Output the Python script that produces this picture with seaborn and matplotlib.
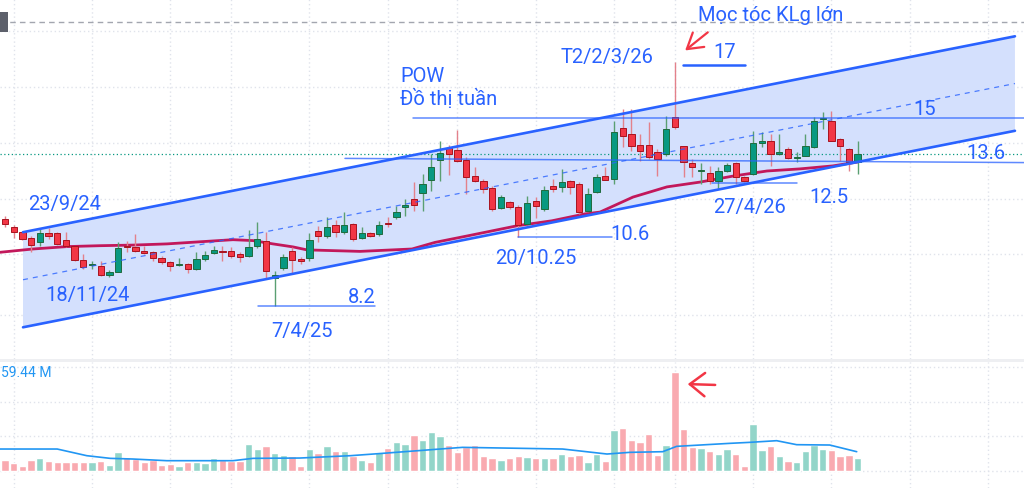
import numpy as np
import pandas as pd
import seaborn as sns
import matplotlib
matplotlib.use("Agg")
import matplotlib.pyplot as plt

# nến tuần POW (giá)
opens = [11.10, 10.83, 10.67, 10.47, 10.33, 10.63, 10.63, 10.40, 10.20, 9.73,
         9.55, 9.53, 9.23, 9.33, 10.20, 10.17, 10.03, 10.00, 9.80, 9.67,
         9.57, 9.60, 9.43, 9.77, 9.97, 10.03, 10.03, 9.93, 9.87, 10.20,
         10.37, 9.13, 9.47, 10.03, 9.77, 9.80, 10.70, 10.53, 10.90, 10.67,
         10.93, 10.47, 10.63, 10.60, 10.97, 11.17, 11.50, 11.77, 11.97, 12.40,
         13.07, 13.47, 13.40, 13.07, 12.53, 12.37, 12.13, 11.47, 11.67, 11.50,
         10.93, 11.70, 11.43, 12.20, 12.17, 12.37, 12.27, 11.37, 12.00, 12.53,
         12.43, 14.13, 13.93, 13.57, 13.57, 13.33, 13.27, 14.50, 13.53, 12.97,
         12.70, 12.63, 12.37, 12.70, 12.97, 12.50, 12.60, 13.63, 13.70, 13.27,
         13.43, 13.13, 13.20, 13.50, 14.43, 14.37, 13.77, 13.43, 13.00]
closes = [10.93, 10.67, 10.43, 10.23, 10.63, 10.53, 10.27, 10.20, 9.73, 9.50,
          9.58, 9.23, 9.33, 10.13, 10.17, 10.03, 9.97, 9.80, 9.67, 9.53,
          9.60, 9.43, 9.77, 9.90, 10.07, 10.00, 9.87, 9.83, 10.17, 10.43,
          9.37, 9.23, 9.83, 9.73, 9.70, 10.40, 10.53, 10.83, 10.67, 10.90,
          10.43, 10.63, 10.53, 10.90, 10.93, 11.33, 11.57, 11.57, 12.27, 12.83,
          13.30, 13.27, 13.03, 12.50, 12.37, 12.10, 11.43, 11.83, 11.50, 10.90,
          11.63, 11.53, 12.07, 12.10, 12.33, 12.17, 11.33, 11.93, 12.50, 12.40,
          14.00, 13.87, 13.53, 13.37, 13.17, 13.10, 14.10, 14.17, 13.00, 12.83,
          12.73, 12.37, 12.70, 12.90, 12.50, 12.37, 13.63, 13.70, 13.27, 13.33,
          13.13, 13.17, 13.53, 14.37, 14.47, 13.70, 13.53, 13.00, 13.27]
highs = [11.20, 10.90, 10.70, 10.53, 10.77, 10.80, 10.67, 10.67, 10.20, 9.93,
         9.70, 9.70, 9.40, 10.33, 10.37, 10.60, 10.20, 10.03, 9.87, 9.70,
         9.80, 9.63, 10.00, 10.03, 10.20, 10.20, 10.17, 10.00, 10.73, 11.00,
         10.67, 9.37, 9.93, 10.17, 9.83, 10.63, 10.87, 11.17, 11.07, 11.33,
         10.97, 10.83, 10.67, 11.03, 11.17, 11.53, 11.77, 12.33, 12.60, 13.27,
         13.70, 13.57, 14.07, 13.17, 12.83, 12.43, 12.20, 11.90, 11.70, 11.57,
         11.87, 11.83, 12.20, 12.43, 12.77, 12.40, 12.33, 12.13, 12.60, 12.83,
         14.37, 14.77, 14.77, 13.93, 14.33, 13.43, 14.53, 16.33, 13.53, 13.10,
         12.97, 12.87, 12.83, 12.97, 13.00, 12.53, 14.03, 14.00, 13.93, 13.93,
         13.50, 13.33, 13.93, 14.50, 14.67, 14.70, 13.80, 13.47, 13.70]
lows = [10.83, 10.47, 10.40, 10.00, 10.20, 10.43, 10.23, 10.17, 9.70, 9.43,
        9.43, 9.20, 9.17, 9.33, 10.00, 10.00, 9.93, 9.70, 9.60, 9.37,
        9.53, 9.30, 9.40, 9.70, 9.93, 9.70, 9.80, 9.67, 9.83, 10.13,
        9.13, 8.20, 9.40, 9.27, 9.60, 9.70, 10.33, 10.47, 10.50, 10.60,
        10.37, 10.43, 10.50, 10.53, 10.83, 11.10, 11.20, 11.37, 11.37, 12.03,
        12.37, 12.57, 13.00, 11.93, 12.33, 11.97, 11.37, 11.43, 11.43, 10.50,
        10.90, 11.13, 11.37, 12.00, 12.00, 11.93, 11.27, 11.33, 11.97, 12.40,
        12.27, 13.50, 13.37, 13.03, 13.10, 12.53, 13.20, 14.10, 12.50, 12.50,
        12.27, 12.27, 12.10, 12.67, 12.27, 12.33, 12.57, 13.50, 12.87, 13.23,
        13.10, 13.00, 13.20, 13.47, 14.10, 13.70, 13.03, 12.70, 12.60]
# khối lượng (triệu cp)
volumes = [6.4, 4.4, 3.0, 6.4, 7.6, 6.0, 5.4, 5.4, 5.0, 5.0,
           5.0, 5.8, 3.6, 11.4, 8.4, 7.0, 5.4, 6.2, 3.4, 4.0,
           3.0, 5.0, 5.4, 4.8, 7.4, 6.4, 5.6, 5.6, 16.0, 13.0,
           14.6, 10.8, 9.2, 8.6, 2.8, 12.8, 10.8, 15.0, 11.8, 11.8,
           9.0, 6.4, 5.4, 11.0, 13.6, 17.4, 16.0, 21.4, 18.4, 23.4,
           21.0, 15.4, 11.0, 14.4, 15.4, 8.6, 7.8, 6.4, 7.4, 8.8,
           8.2, 7.8, 7.8, 7.4, 10.0, 8.8, 9.6, 5.0, 10.0, 6.0,
           24.2, 25.6, 18.4, 17.4, 22.0, 9.2, 15.4, 59.44, 25.0, 14.4,
           13.6, 11.8, 10.0, 13.2, 10.0, 2.8, 27.8, 12.4, 15.0, 8.8,
           6.0, 5.0, 11.8, 15.4, 13.2, 12.4, 8.8, 9.2, 7.8]

# đường MA giá và MA khối lượng
ma_idx = [0.43, 4.22, 8.13, 11.92, 15.71, 19.62, 23.41, 27.21, 29.51, 31.8,
          34.1, 35.71, 41.8, 47.78, 50.43, 54.22, 59.97, 63.87, 67.67, 69.39,
          73.18, 77.09, 80.89, 84.68, 88.59, 92.38, 96.17, 99.05]
ma_val = [9.99, 10.10, 10.18, 10.21, 10.23, 10.27, 10.34, 10.41, 10.38, 10.27,
          10.17, 10.07, 10.02, 10.10, 10.32, 10.54, 10.88, 11.04, 11.27, 11.33,
          11.83, 12.17, 12.33, 12.53, 12.70, 12.77, 12.87, 13.00]
vma_idx = [0.43, 7, 10.4, 13.1, 15.7, 19.6, 27.2, 29.5, 34.9, 40.7, 44.4, 51,
           53.6, 65.1, 70.2, 72.8, 76.6, 78.2, 84.3, 86.6, 89.7, 92, 95.8, 98.9]
vma_val = [13.0, 13.0, 9.0, 7.4, 7.0, 6.0, 6.0, 7.4, 7.6, 9.0, 10.4, 13.0,
           14.0, 13.0, 10.0, 11.0, 11.4, 14.6, 16.4, 17.0, 18.0, 15.6, 15.4, 11.4]

# kênh giá
chan_x = [3.07, 117.09]
chan_top = [10.66, 17.19]
chan_bot = [7.49, 14.04]
grid_x = [2, 11, 20, 27, 36, 45, 53, 62, 71, 78, 87, 96, 105, 114]
grid_y = [17.38, 15.49, 13.63, 11.77, 9.93, 7.90]
grid_v = [0, 20.7, 41.4, 62.0]

sns.set_theme(style="white")
plt.rcParams["font.family"] = ["Roboto", "DejaVu Sans"]

BLUE = "#2962ff"
RED = "#f23645"
GREEN = "#089981"

fig = plt.figure(figsize=(10.24, 4.89), dpi=100)
ax = fig.add_axes([0, 129 / 489, 1, 360 / 489])
axv = fig.add_axes([0, 0, 1, 126 / 489])

x = np.arange(1, len(opens) + 1)
o = np.array(opens)
c = np.array(closes)
h = np.array(highs)
l = np.array(lows)
up = c >= o

# lưới
for gx in grid_x:
    ax.axvline(gx, color="#e0e3eb", lw=1, ls=(0, (1, 2)), zorder=0)
    axv.axvline(gx, color="#e0e3eb", lw=1, ls=(0, (1, 2)), zorder=0)
for gy in grid_y:
    ax.axhline(gy, color="#e0e3eb", lw=1, ls=(0, (1, 2)), zorder=0)
for gv in grid_v:
    axv.axhline(gv, color="#e0e3eb", lw=1, ls=(0, (1, 2)), zorder=0)
ax.axhline(17.66, color="#a3a6af", lw=1, ls=(0, (4, 3)), zorder=0)

# kênh xu hướng
ax.fill([chan_x[0], chan_x[1], chan_x[1], chan_x[0]],
        [chan_top[0], chan_top[1], chan_bot[1], chan_bot[0]],
        color="#d4e0fd", lw=0, zorder=1)
ax.plot(chan_x, chan_top, color=BLUE, lw=1.9, zorder=5)
ax.plot(chan_x, chan_bot, color=BLUE, lw=1.9, zorder=5)
ax.plot(chan_x, [(chan_top[0] + chan_bot[0]) / 2, (chan_top[1] + chan_bot[1]) / 2],
        color=BLUE, lw=0.9, ls=(0, (4, 4)), alpha=0.8, zorder=5)

# MA giá
sns.lineplot(x=ma_idx, y=ma_val, color="#c2185b", lw=2, ax=ax, zorder=2)

# nến
ax.vlines(x[up], l[up], h[up], color="#5a9f72", lw=1, zorder=3)
ax.vlines(x[~up], l[~up], h[~up], color="#e3818b", lw=1, zorder=3)
body_h = np.maximum(np.abs(c - o), 0.035)
body_b = np.minimum(o, c)
ax.bar(x[up], body_h[up], bottom=body_b[up], width=0.72, color=GREEN,
       edgecolor="#1f6b3d", lw=0.7, zorder=4)
ax.bar(x[~up], body_h[~up], bottom=body_b[~up], width=0.72, color=RED,
       edgecolor="#a8131f", lw=0.7, zorder=4)

# đường ngang đánh dấu
ax.axhline(c[-1], color=GREEN, lw=0.9, ls=(0, (1, 2)), zorder=2)
hline_kw = dict(color=BLUE, lw=1.1, alpha=0.75, zorder=5)
ax.plot([47.9, 118.2], [14.47, 14.47], **hline_kw)
ax.plot([40.08, 118.2], [13.12, 12.98], **hline_kw)
ax.plot([78.93, 86.06], [16.24, 16.24], color=BLUE, lw=1.8, zorder=5)
ax.plot([59.97, 70.77], [10.51, 10.51], **hline_kw)
ax.plot([30.08, 43.53], [8.2, 8.2], **hline_kw)
ax.plot([82.26, 92.03], [12.30, 12.30], **hline_kw)

# chữ chú thích
tk = dict(color=BLUE, fontsize=14.5, ha="center", va="center", zorder=6)
ax.text(7.84, 11.62, "23/9/24", **tk)
ax.text(10.48, 8.58, "18/11/24", **tk)
ax.text(35.14, 7.37, "7/4/25", **tk)
ax.text(42.03, 8.50, "8.2", **tk)
ax.text(57.3, 9.80, "20/10.25", color=BLUE, fontsize=14.5, ha="left", va="center")
ax.text(72.84, 10.62, "10.6", **tk)
ax.text(46.4, 15.87, "POW", color=BLUE, fontsize=14.5, ha="left", va="center")
ax.text(46.4, 15.13, "Đồ thị tuần", color=BLUE, fontsize=14.5, ha="left", va="center")
ax.text(70.2, 16.53, "T2/2/3/26", **tk)
ax.text(89.05, 17.90, "Mọc tóc KLg lớn", **tk)
ax.text(83.76, 16.68, "17", **tk)
ax.text(106.75, 14.77, "15", **tk)
ax.text(113.76, 13.30, "13.6", **tk)
ax.text(95.71, 11.85, "12.5", **tk)
ax.text(86.63, 11.52, "27/4/26", **tk)

ax.annotate("", xy=(78.93, 16.66), xytext=(82.03, 17.38),
            arrowprops=dict(arrowstyle="->,head_length=0.9,head_width=0.55",
                            color=RED, lw=1.6, mutation_scale=12), zorder=6)

# khối lượng
vol_df = pd.DataFrame({"idx": x, "vol": volumes,
                       "dir": np.where(up, "up", "down")})
sns.barplot(data=vol_df, x="idx", y="vol", hue="dir",
            palette={"up": "#92d5c9", "down": "#f9aab0"},
            native_scale=True, dodge=False, width=0.85, errorbar=None,
            saturation=1, legend=False, ax=axv, zorder=2)
sns.lineplot(x=vma_idx, y=vma_val, color="#2196f3", lw=1.2, ax=axv, zorder=3)
axv.annotate("", xy=(79.16, 52.0), xytext=(82.95, 51.4),
             arrowprops=dict(arrowstyle="->,head_length=0.9,head_width=0.7",
                             color=RED, lw=1.8, mutation_scale=12), zorder=6)
axv.text(0.55, 59.0, "59.44 M", color="#2196f3", fontsize=10,
         ha="left", va="center")

for a in (ax, axv):
    a.set_xlim(0.425, 118.13)
    a.set_xticks([])
    a.set_yticks([])
    a.set_xlabel("")
    a.set_ylabel("")
    for s in a.spines.values():
        s.set_visible(False)
ax.set_ylim(6.433, 18.433)
axv.set_ylim(-10.38, 65.2)

# thanh phân cách và nút nhỏ bên trái
fig.add_artist(plt.Rectangle((0, 126 / 489), 1, 3 / 489, transform=fig.transFigure,
                             color="#eeeff2", lw=0))
fig.add_artist(plt.Rectangle((0, 1 - 33 / 489), 8 / 1024, 20 / 489,
                             transform=fig.transFigure, color="#5d606b", lw=0))

fig.savefig("out.png", dpi=100)
